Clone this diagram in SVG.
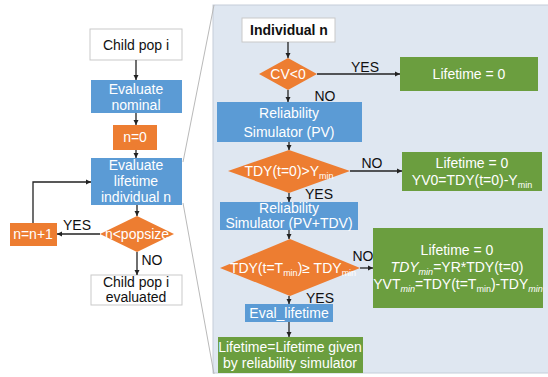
<svg xmlns="http://www.w3.org/2000/svg" width="548" height="377" viewBox="0 0 548 377">
<defs>
<marker id="ah" markerWidth="6" markerHeight="6" refX="5" refY="3" orient="auto" markerUnits="userSpaceOnUse">
<path d="M0,0.5 L5,3 L0,5.5 Z" fill="#222"/>
</marker>
<style>
text{font-family:"Liberation Sans",Arial,sans-serif;font-size:14px;text-anchor:middle}
.w{fill:#ffffff}
.k{fill:#111}
.lbl{fill:#111;font-size:14px}
.wb{fill:#fff;stroke:#c9c9c9;stroke-width:1}
.bl{fill:#5b9bd5}
.or{fill:#ed7d31}
.gr{fill:#6b9e3f}
.c{stroke:#222;stroke-width:1.3;fill:none;marker-end:url(#ah)}
.z{stroke:#b9b9b9;stroke-width:1;fill:none}
.sub{font-size:9px}
</style>
</defs>
<rect width="548" height="377" fill="#ffffff"/>
<!-- zoom panel -->
<g id="panel">
<rect x="213" y="5" width="340" height="368" fill="#dfe7f1" stroke="#c5ced9" stroke-width="1"/>
<line class="z" x1="214" y1="5" x2="183" y2="162"/>
<line class="z" x1="183" y1="203" x2="214" y2="374"/>
</g>
<!-- left flowchart -->
<g id="childpop">
<rect class="wb" x="90" y="29" width="92" height="31"/>
<text class="k" x="136" y="50">Child pop i</text>
</g>
<g id="evalnominal">
<rect class="bl" x="91" y="80" width="91" height="33"/>
<text class="w" x="136" y="94">Evaluate</text>
<text class="w" x="136" y="110">nominal</text>
</g>
<g id="n0">
<rect class="or" x="113" y="125" width="44" height="25"/>
<text class="w" x="135" y="142">n=0</text>
</g>
<g id="evallifetime">
<rect class="bl" x="91" y="158" width="91" height="47"/>
<text class="w" x="136" y="170">Evaluate</text>
<text class="w" x="136" y="186">lifetime</text>
<text class="w" x="136" y="202">individual n</text>
</g>
<g id="popsize">
<polygon class="or" points="137,216 174,234 137,252 100,234"/>
<text class="w" x="137" y="239">n&lt;popsize</text>
</g>
<g id="nplus1">
<rect class="or" x="10" y="223" width="47" height="23"/>
<text class="w" x="33" y="239">n=n+1</text>
</g>
<g id="childevaluated">
<rect class="wb" x="91" y="275" width="91" height="30"/>
<text class="k" x="136" y="287">Child pop i</text>
<text class="k" x="136" y="302">evaluated</text>
</g>
<!-- right flowchart -->
<g id="individual">
<rect class="wb" x="242" y="18" width="93" height="24"/>
<text class="k" x="289" y="35" font-weight="bold">Individual n</text>
</g>
<g id="cv">
<polygon class="or" points="288,58 317,74 288,90 259,74"/>
<text class="w" x="288" y="79">CV&lt;0</text>
</g>
<g id="life0a">
<rect class="gr" x="400" y="57" width="138" height="34"/>
<text class="w" x="469" y="79">Lifetime = 0</text>
</g>
<g id="relpv">
<rect class="bl" x="217" y="102" width="145" height="40"/>
<text class="w" x="289" y="118">Reliability</text>
<text class="w" x="289" y="137">Simulator (PV)</text>
</g>
<g id="tdy0">
<polygon class="or" points="289,150 350,171 289,193 228,171"/>
<text class="w" x="289" y="176">TDY(t=0)&gt;Y<tspan class="sub" dy="3">min</tspan></text>
</g>
<g id="life0b">
<rect class="gr" x="402" y="152" width="140" height="39"/>
<text class="w" x="472" y="168">Lifetime = 0</text>
<text class="w" x="472" y="185">YV0=TDY(t=0)-Y<tspan class="sub" dy="3">min</tspan></text>
</g>
<g id="relpvtdv">
<rect class="bl" x="220" y="202" width="138" height="28"/>
<text class="w" x="289" y="213" font-size="13">Reliability</text>
<text class="w" x="289" y="228" font-size="13">Simulator (PV+TDV)</text>
</g>
<g id="tdytmin">
<polygon class="or" points="290,239 360,268 290,296 220,268"/>
<text class="w" x="293" y="273">TDY(t=T<tspan class="sub" dy="3">min</tspan><tspan dy="-3">)≥ TDY</tspan><tspan class="sub" dy="3">min</tspan></text>
</g>
<g id="life0c">
<rect class="gr" x="373" y="228" width="170" height="80"/>
<text class="w" x="457" y="255">Lifetime = 0</text>
<text class="w" x="457" y="272" font-size="13.5"><tspan font-style="italic">TDY</tspan><tspan class="sub" font-style="italic" dy="3">min</tspan><tspan dy="-3">=YR*TDY(t=0)</tspan></text>
<text class="w" x="458" y="289" font-size="13.3">YVT<tspan class="sub" font-style="italic" dy="3">min</tspan><tspan dy="-3">=TDY(t=T</tspan><tspan class="sub" dy="3">min</tspan><tspan dy="-3">)-TDY</tspan><tspan class="sub" font-style="italic" dy="3">min</tspan></text>
</g>
<g id="evallife">
<rect class="bl" x="245" y="304" width="88" height="18"/>
<text class="w" x="289" y="318">Eval_lifetime</text>
</g>
<g id="lifefinal">
<rect class="gr" x="218" y="337" width="145" height="36"/>
<text class="w" x="290" y="352">Lifetime=Lifetime given</text>
<text class="w" x="290" y="368">by reliability simulator</text>
</g>
<!-- connectors -->
<g id="connectors">
<line class="c" x1="136" y1="60" x2="136" y2="80"/>
<line class="c" x1="136" y1="113" x2="136" y2="125"/>
<line class="c" x1="136" y1="150" x2="136" y2="158"/>
<line class="c" x1="137" y1="205" x2="137" y2="216"/>
<line class="c" x1="100" y1="234" x2="57" y2="234"/>
<path class="c" d="M33,223 V182 H91"/>
<line class="c" x1="137" y1="252" x2="137" y2="275"/>
<line class="c" x1="288" y1="42" x2="288" y2="58"/>
<line class="c" x1="317" y1="74" x2="400" y2="74"/>
<line class="c" x1="288" y1="90" x2="288" y2="102"/>
<line class="c" x1="289" y1="142" x2="289" y2="150"/>
<line class="c" x1="350" y1="171" x2="402" y2="171"/>
<line class="c" x1="289" y1="193" x2="289" y2="202"/>
<line class="c" x1="289" y1="230" x2="289" y2="239"/>
<line class="c" x1="360" y1="268" x2="373" y2="268"/>
<line class="c" x1="289" y1="296" x2="289" y2="304"/>
<line class="c" x1="289" y1="322" x2="289" y2="337"/>
<text class="lbl" x="77" y="230">YES</text>
<text class="lbl" x="152" y="265">NO</text>
<text class="lbl" x="365" y="72">YES</text>
<text class="lbl" x="325" y="101">NO</text>
<text class="lbl" x="372" y="168">NO</text>
<text class="lbl" x="319" y="199">YES</text>
<text class="lbl" x="363" y="261">NO</text>
<text class="lbl" x="320" y="303">YES</text>
</g>
</svg>
